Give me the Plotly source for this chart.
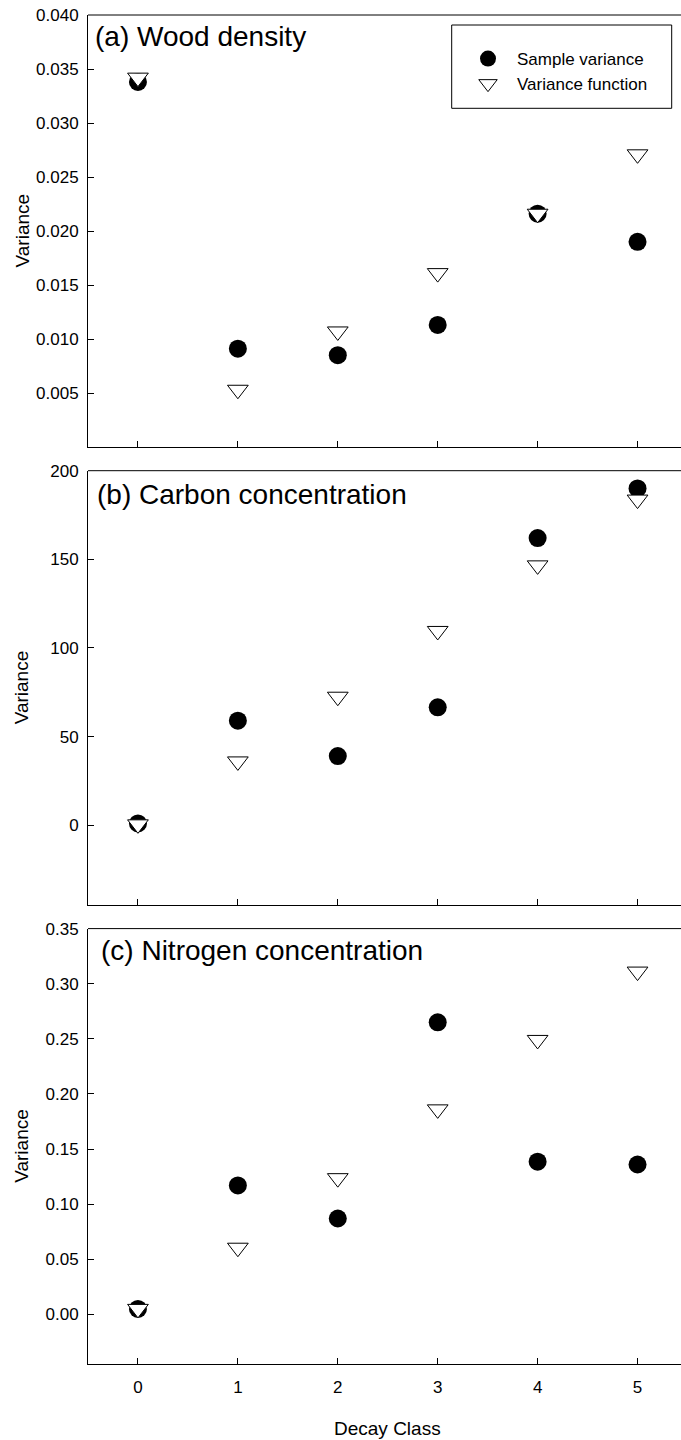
import plotly.graph_objects as go

# ---- data ----
decay_class = [0, 1, 2, 3, 4, 5]

wood_sample = [0.0338, 0.0091, 0.0085, 0.0113, 0.0216, 0.0190]
wood_func = [0.0342, 0.0053, 0.0107, 0.0161, 0.0216, 0.0271]

carbon_sample = [1.0, 59.0, 39.0, 66.5, 162.0, 190.0]
carbon_func = [0.5, 36.0, 72.5, 109.6, 146.6, 183.7]

nitrogen_sample = [0.005, 0.117, 0.087, 0.265, 0.1385, 0.136]
nitrogen_func = [0.005, 0.0605, 0.1236, 0.186, 0.249, 0.311]

panel_labels = ["(a) Wood density", "(b) Carbon concentration", "(c) Nitrogen concentration"]
series_names = ["Sample variance", "Variance function"]

wood_ticks = [0.005, 0.010, 0.015, 0.020, 0.025, 0.030, 0.035, 0.040]
carbon_ticks = [0, 50, 100, 150, 200]
nitrogen_ticks = [0.00, 0.05, 0.10, 0.15, 0.20, 0.25, 0.30, 0.35]

FONT = "Liberation Sans, Arial, sans-serif"
W, H = 681, 1440
ML, MR, MT, MB = 88, 0, 15, 76
PW = W - ML - MR
PH = H - MT - MB


def fx(xpix):
    return (xpix - ML) / PW


def fy(ypix):
    return (H - MB - ypix) / PH


fig = go.Figure()

panels = [
    (wood_sample, wood_func, "x", "y"),
    (carbon_sample, carbon_func, "x2", "y2"),
    (nitrogen_sample, nitrogen_func, "x3", "y3"),
]
for i, (s, f, xa, ya) in enumerate(panels):
    fig.add_trace(go.Scatter(
        x=decay_class, y=s, mode="markers", name=series_names[0],
        marker=dict(symbol="circle", size=18, color="black", line=dict(width=0)),
        xaxis=xa, yaxis=ya, showlegend=(i == 0), legendrank=1))
    fig.add_trace(go.Scatter(
        x=decay_class, y=f, mode="markers", name=series_names[1],
        marker=dict(symbol="triangle-down", size=18, color="white",
                    line=dict(width=1, color="black")),
        xaxis=xa, yaxis=ya, showlegend=(i == 0), legendrank=2))

xcommon = dict(range=[-0.5, 5.435], tickvals=decay_class, ticks="inside", ticklen=6,
               tickcolor="black", showline=True, linecolor="black", linewidth=1,
               showgrid=False, zeroline=False, domain=[0, 1],
               tickfont=dict(family=FONT, size=17, color="black"))
ycommon = dict(ticks="inside", ticklen=6, tickcolor="black", showline=True,
               linecolor="black", linewidth=1, showgrid=False, zeroline=False,
               tickfont=dict(family=FONT, size=17, color="black"), ticklabelstandoff=5)

fig.update_layout(
    width=W, height=H,
    margin=dict(l=ML, r=MR, t=MT, b=MB, autoexpand=False),
    paper_bgcolor="white", plot_bgcolor="white",
    font=dict(family=FONT, color="black"),
    xaxis=dict(xcommon, anchor="y", showticklabels=False),
    xaxis2=dict(xcommon, anchor="y2", showticklabels=False),
    xaxis3=dict(xcommon, anchor="y3", showticklabels=True, ticklabelstandoff=8),
    yaxis=dict(ycommon, anchor="x", domain=[fy(447), 1.0], range=[0, 0.040],
               tickvals=wood_ticks, tickformat=".3f"),
    yaxis2=dict(ycommon, anchor="x2", domain=[fy(905), fy(470.7)], range=[-45, 200],
                tickvals=carbon_ticks, tickformat="d"),
    yaxis3=dict(ycommon, anchor="x3", domain=[0, fy(928.6)], range=[-0.045, 0.35],
                tickvals=nitrogen_ticks, tickformat=".2f"),
    legend=dict(xref="paper", yref="paper", x=fx(459), y=fy(41),
                xanchor="left", yanchor="top", bgcolor="rgba(0,0,0,0)",
                borderwidth=0, itemwidth=48,
                font=dict(family=FONT, size=17, color="black")),
)

# top frame lines of each panel
for xa, ya in [("x", "y"), ("x2", "y2"), ("x3", "y3")]:
    fig.add_shape(type="line", xref=f"{xa} domain", yref=f"{ya} domain",
                  x0=0, x1=1, y0=1, y1=1, line=dict(color="black", width=1))

# legend box
fig.add_shape(type="rect", xref="paper", yref="paper",
              x0=fx(451.7), x1=fx(671.7), y0=fy(108.3), y1=fy(25),
              line=dict(color="black", width=1), fillcolor="rgba(0,0,0,0)")

# panel labels
label_pos = [(93.3, 37), (95, 494), (99, 950)]
for txt, (xp, yp) in zip(panel_labels, label_pos):
    fig.add_annotation(text=txt, xref="paper", yref="paper",
                       x=fx(xp), y=fy(yp),
                       xanchor="left", yanchor="middle", showarrow=False,
                       font=dict(family=FONT, size=28, color="black"))

# y-axis titles
for ya in ["y", "y2", "y3"]:
    fig.add_annotation(text="Variance", xref="paper", yref=f"{ya} domain",
                       x=fx(21.5), y=0.5, textangle=-90,
                       xanchor="center", yanchor="middle", showarrow=False,
                       font=dict(family=FONT, size=19, color="black"))

# x-axis title
fig.add_annotation(text="Decay Class", xref="x3", yref="paper", x=2.5, y=fy(1428),
                   xanchor="center", yanchor="middle", showarrow=False,
                   font=dict(family=FONT, size=19, color="black"))

fig.write_html("out.html")
